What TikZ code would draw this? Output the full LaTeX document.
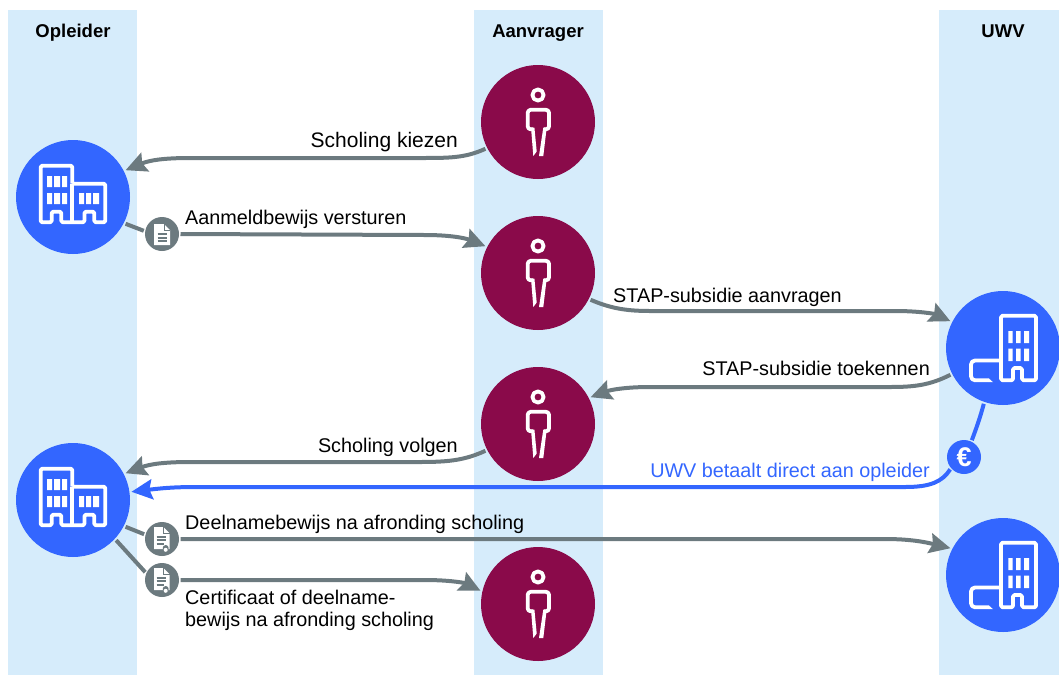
\documentclass[tikz,border=0pt]{standalone}
\usepackage{fontspec}
\setmainfont{Liberation Sans}
\usetikzlibrary{arrows.meta}
\definecolor{lane}{HTML}{D6ECFB}
\definecolor{grayc}{HTML}{6C7A7F}
\definecolor{bluec}{HTML}{3366FF}
\definecolor{maroon}{HTML}{8A0A4A}
\tikzset{
  x=1pt,y=-1pt,
  lanebox/.style={fill=lane,draw=none},
  org/.style={circle,fill=bluec,minimum size=114pt,inner sep=0pt,outer sep=2pt},
  per/.style={circle,fill=maroon,minimum size=114pt,inner sep=0pt,outer sep=2pt},
  badge/.style={circle,fill=grayc,minimum size=34pt,inner sep=0pt,outer sep=1.5pt},
  eurobadge/.style={circle,fill=bluec,minimum size=34pt,inner sep=0pt,outer sep=1.5pt,text=white,font=\fontsize{27}{27}\selectfont\bfseries},
  conn/.style={draw=grayc,line width=4pt},
  arr/.style={-{Stealth[length=21pt,width=20pt,inset=3pt]}},
  bconn/.style={draw=bluec,line width=4pt},
  lbl/.style={font=\fontsize{19.8}{22}\selectfont,inner sep=0pt,text=black},
  lblbig/.style={font=\fontsize{21}{22}\selectfont,inner sep=0pt,text=black},
  head/.style={font=\fontsize{18.5}{20}\selectfont\bfseries,inner sep=0pt,anchor=base},
  icon/.style={draw=white,line width=3.8pt,line join=round},
  building/.pic={
    \draw[icon,rounded corners=1.5pt] (-0.7,-13.3) -- (-0.7,-31.3) -- (-32.3,-31.3) -- (-32.3,25.3) -- (-21.3,25.3) -- (-21.3,14.7) -- (-11.7,14.7) -- (-11.7,25.3) -- (11.4,25.3) -- (11.4,14.7) -- (21.3,14.7) -- (21.3,25.3) -- (32.3,25.3) -- (32.3,-13.3) -- (-0.7,-13.3);
    \draw[icon] (-0.7,-13.3) -- (-0.7,25.3);
    \fill[white] (-26,-21) rectangle (-21,-10) (-19,-21) rectangle (-13,-10) (-11,-21) rectangle (-6,-10)
      (-26,-4) rectangle (-21,7) (-19,-4) rectangle (-13,7) (-11,-4) rectangle (-6,7)
      (6,-4) rectangle (11,7) (13,-4) rectangle (18,7) (20,-4) rectangle (26,7);
  },
  tower/.pic={
    \draw[icon,rounded corners=1.5pt] (-2,32.3) -- (-2,-32.3) -- (33,-32.3) -- (33,32.3) -- (19,32.3) -- (19,20) -- (10,20) -- (10,32.3) -- cycle;
    \draw[icon,line cap=butt,rounded corners=4pt] (-2,12.5) -- (-32,12.5) -- (-32,32.3) -- (-14,32.3);
    \fill[white] (-14.2,30.4) -- (-10,34.2) -- (-14.2,34.2) -- cycle;
    \fill[white] (5.3,-17) rectangle (9.7,-5) (13,-17) rectangle (17.7,-5) (21,-17) rectangle (26,-5)
      (5.3,0.7) rectangle (9.7,13) (13,0.7) rectangle (17.7,13) (21,0.7) rectangle (26,13);
  },
  person/.pic={
    \draw[icon] (0,-27) circle (5.6);
    \draw[icon,rounded corners=3pt] (-5,7.3) -- (-10.3,7.3) -- (-10.3,-12.2) -- (11,-12.2) -- (11,7.3) -- (6,7.3);
    \fill[white] (-7,5.5) -- (-4.7,34) -- (-1.3,29.5) -- (-3.6,5.5) -- cycle;
    \fill[white] (5.3,5.5) -- (1,34) -- (5.3,34) -- (8.7,5.5) -- cycle;
  },
  docicon/.pic={
    \fill[white] (-8,-10) -- (2,-10) -- (8,-4) -- (8,11) -- (-8,11) -- cycle;
    \draw[grayc,line width=0.8pt] (2,-10) -- (2,-4) -- (8,-4);
    \draw[grayc,line width=1.7pt] (-4.5,0.3) -- (4.5,0.3) (-4.5,3.7) -- (4.5,3.7) (-4.5,7) -- (4.5,7);
  },
  certicon/.pic={
    \fill[white] (-8,-12) -- (1.5,-12) -- (7.5,-6) -- (7.5,10) -- (-8,10) -- cycle;
    \draw[grayc,line width=0.8pt] (1.5,-12) -- (1.5,-6) -- (7.5,-6);
    \draw[grayc,line width=1.6pt] (-5.3,-2.3) -- (3.7,-2.3) (-5.3,1) -- (3.7,1) (-5.3,4.8) -- (1.5,4.8);
    \fill[grayc] (3.7,9) circle (3);
    \fill[white] (3.7,10.8) circle (2);
  }
}
\begin{document}
\begin{tikzpicture}
\useasboundingbox (0,0) rectangle (1059,675);
\fill[lanebox] (8,10) rectangle (137,675);
\fill[lanebox] (474,10) rectangle (603,675);
\fill[lanebox] (939,10) rectangle (1059,675);

\node[head] (h1) at (73,37) {Opleider};
\node[head] (h2) at (538,37) {Aanvrager};
\node[head] (h3) at (1003,37) {UWV};

\node[per] (a1) at (538,122) {};
\node[per] (a2) at (538,273) {};
\node[per] (a3) at (538,424) {};
\node[per] (a4) at (538,604) {};
\node[org] (o1) at (73,197) {};
\node[org] (o2) at (73,500) {};
\node[org] (t1) at (1003,348) {};
\node[org] (t2) at (1003,575) {};
\node[badge] (d1) at (162,234) {};
\node[badge] (d2) at (162,539) {};
\node[badge] (d3) at (162,580) {};
\node[eurobadge] (e1) at (964,457) {€};

\foreach \n in {a1,a2,a3,a4} \pic at (\n) {person};
\foreach \n in {o1,o2} \pic at (\n) {building};
\foreach \n in {t1,t2} \pic at (\n) {tower};
\pic at (d1) {docicon};
\pic at (d2) {certicon};
\pic at (d3) {certicon};

\draw[conn,arr] (a1.207) .. controls (465,158) and (450,158) .. (420,158) -- (190,158) .. controls (165,158) and (150,160) .. (o1.27);
\draw[conn] (o1.-27) -- (d1.170);
\draw[conn,arr] (d1.east) -- (425,235) .. controls (450,235) and (465,238) .. (a2.153);
\draw[conn,arr] (a2.-27) .. controls (610,308) and (625,311) .. (650,311) -- (895,311) .. controls (920,311) and (935,314) .. (t1.153);
\draw[conn,arr] (t1.207) .. controls (930,385) and (915,387) .. (890,387) -- (650,387) .. controls (625,387) and (610,390) .. (a3.27);
\draw[conn,arr] (a3.207) .. controls (465,460) and (450,462) .. (420,462) -- (190,462) .. controls (165,462) and (150,464) .. (o2.27);
\draw[bconn] (t1.251) .. controls (980,418) and (976,429) .. (e1.65);
\draw[bconn,arr] (e1.222) .. controls (942,482) and (930,487) .. (905,487) -- (195,487) .. controls (170,487) and (155,489) .. (o2.8);
\draw[conn] (o2.-27) -- (d2.165);
\draw[conn] (o2.-43) -- (d3.155);
\draw[conn,arr] (d2.east) -- (885,539) .. controls (910,539) and (925,542) .. (t2.153);
\draw[conn,arr] (d3.east) -- (425,580) .. controls (450,580) and (465,583) .. (a4.167);

\node[lblbig,anchor=base east] (l1) at (458,147) {Scholing kiezen};
\node[lbl,anchor=base west] (l2) at (185,224) {Aanmeldbewijs versturen};
\node[lbl,anchor=base west] (l3) at (613,302) {STAP-subsidie aanvragen};
\node[lbl,anchor=base east] (l4) at (930,375) {STAP-subsidie toekennen};
\node[lbl,anchor=base east] (l5) at (458,452) {Scholing volgen};
\node[lbl,anchor=base east,text=bluec] (l6) at (930,477) {UWV betaalt direct aan opleider};
\node[lbl,anchor=base west] (l7) at (185,529) {Deelnamebewijs na afronding scholing};
\node[lbl,anchor=base west] (l8) at (185,604) {Certificaat of deelname-};
\node[lbl,anchor=base west] (l9) at (185,626) {bewijs na afronding scholing};
\end{tikzpicture}
\end{document}
